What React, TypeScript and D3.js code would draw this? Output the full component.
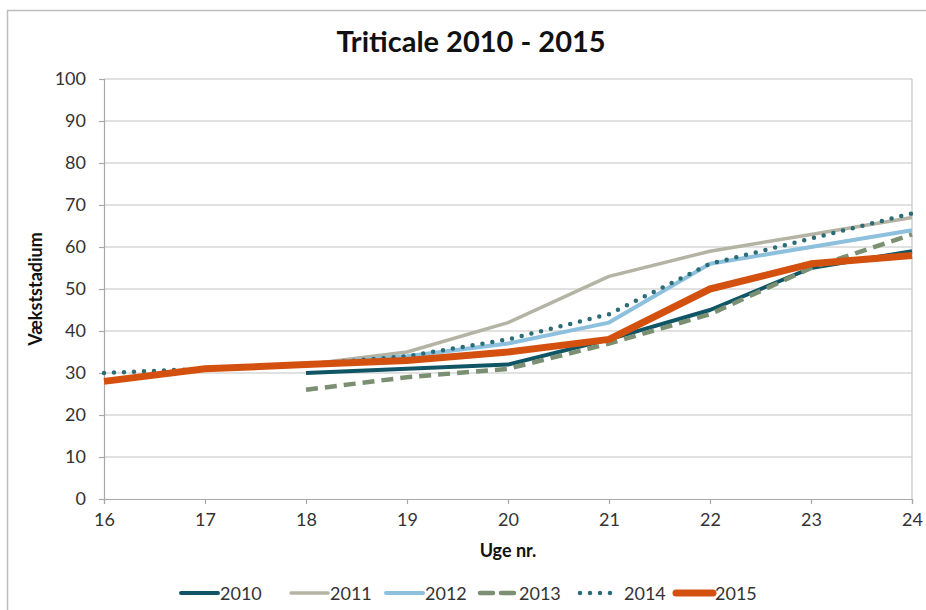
import React, { useEffect, useRef } from 'react';
import * as d3 from 'd3';

// Weeks on the x axis
const weeks = [16, 17, 18, 19, 20, 21, 22, 23, 24];
const yTicks = [0, 10, 20, 30, 40, 50, 60, 70, 80, 90, 100];

// Growth stage per week (null = no reading)
const years = ['2010', '2011', '2012', '2013', '2014', '2015'];
const v2010 = [null, null, 30, 31, 32, 38, 45, 55, 59];
const v2011 = [null, null, 32, 35, 42, 53, 59, 63, 67];
const v2012 = [null, null, 32, 34, 37, 42, 56, 60, 64];
const v2013 = [null, null, 26, 29, 31, 37, 44, 55, 63];
const v2014 = [30, 31, 32, 34, 38, 44, 56, 62, 68];
const v2015 = [28, 31, 32, 33, 35, 38, 50, 56, 58];

const seriesValues = [v2010, v2011, v2012, v2013, v2014, v2015];

const styles = [
  { color: '#0f5566', width: 4, dash: null, cap: 'butt' },
  { color: '#b5b3a3', width: 3.5, dash: null, cap: 'butt' },
  { color: '#8cc0dd', width: 4, dash: null, cap: 'butt' },
  { color: '#7b8f72', width: 4.5, dash: '12,7', cap: 'butt' },
  { color: '#2c6c76', width: 4.5, dash: '0,10', cap: 'round' },
  { color: '#d4500f', width: 7, dash: null, cap: 'butt' },
];

const W = 926;
const H = 610;
const margin = { top: 79, right: 14, bottom: 111, left: 104 };

function Chart() {
  const ref = useRef(null);

  useEffect(() => {
    const root = d3.select(ref.current);
    root.selectAll('*').remove();

    const svg = root
      .append('svg')
      .attr('width', W)
      .attr('height', H)
      .style('position', 'absolute')
      .style('left', 0)
      .style('top', 0)
      .style('font-family', 'Lato, "Open Sans", sans-serif');

    svg.append('rect').attr('width', W).attr('height', H).attr('fill', '#fff');

    // chart border
    svg
      .append('rect')
      .attr('x', 7.5)
      .attr('y', 10.5)
      .attr('width', W + 20)
      .attr('height', H + 20)
      .attr('fill', 'none')
      .attr('stroke', '#bdbdbd')
      .attr('stroke-width', 1.5);

    const width = W - margin.left - margin.right;
    const height = H - margin.top - margin.bottom;

    const x = d3.scaleLinear().domain([16, 24]).range([0, width]);
    const y = d3.scaleLinear().domain([0, 100]).range([height, 0]);

    const g = svg.append('g').attr('transform', `translate(${margin.left},${margin.top})`);

    // gridlines
    g.append('g')
      .selectAll('line')
      .data(yTicks.filter(t => t > 0))
      .enter()
      .append('line')
      .attr('x1', 0)
      .attr('x2', width)
      .attr('y1', d => y(d))
      .attr('y2', d => y(d))
      .attr('stroke', '#c4c4c4')
      .attr('stroke-width', 1.2);

    // right border of plot
    g.append('line')
      .attr('x1', width)
      .attr('x2', width)
      .attr('y1', 0)
      .attr('y2', height)
      .attr('stroke', '#c4c4c4')
      .attr('stroke-width', 1.2);

    // y axis
    const yAxis = g
      .append('g')
      .call(d3.axisLeft(y).tickValues(yTicks).tickSize(5).tickPadding(13));
    yAxis.select('.domain').attr('stroke', '#a8a8a8').attr('stroke-width', 1.2);
    yAxis.selectAll('.tick line').attr('stroke', '#a8a8a8').attr('stroke-width', 1.2);
    yAxis
      .selectAll('text')
      .attr('fill', '#333')
      .style('font-size', '18px')
      .style('font-family', 'Lato, sans-serif');

    // x axis
    const xAxis = g
      .append('g')
      .attr('transform', `translate(0,${height})`)
      .call(d3.axisBottom(x).tickValues(weeks).tickFormat(d3.format('d')).tickSize(5).tickPadding(9));
    xAxis.select('.domain').attr('stroke', '#a8a8a8').attr('stroke-width', 1.2);
    xAxis.selectAll('.tick line').attr('stroke', '#a8a8a8').attr('stroke-width', 1.2);
    xAxis
      .selectAll('text')
      .attr('fill', '#333')
      .style('font-size', '18px')
      .style('font-family', 'Lato, sans-serif');

    // lines
    const line = d3
      .line()
      .defined(d => d[1] != null)
      .x(d => x(d[0]))
      .y(d => y(d[1]));

    seriesValues.forEach((vals, i) => {
      const s = styles[i];
      const pts = weeks.map((w, j) => [w, vals[j]]);
      const path = g
        .append('path')
        .datum(pts)
        .attr('d', line)
        .attr('fill', 'none')
        .attr('stroke', s.color)
        .attr('stroke-width', s.width)
        .attr('stroke-linejoin', 'round')
        .attr('stroke-linecap', s.cap);
      if (s.dash) path.attr('stroke-dasharray', s.dash);
    });

    // title
    svg
      .append('text')
      .attr('x', 471)
      .attr('y', 52)
      .attr('text-anchor', 'middle')
      .style('font-size', '29px')
      .style('font-weight', 'bold')
      .attr('fill', '#111')
      .text('Triticale 2010 - 2015');

    // axis titles
    svg
      .append('text')
      .attr('transform', `translate(42,${margin.top + height / 2}) rotate(-90)`)
      .attr('text-anchor', 'middle')
      .style('font-size', '18px')
      .style('font-weight', 'bold')
      .attr('fill', '#111')
      .text('Vækststadium');

    svg
      .append('text')
      .attr('x', margin.left + width / 2)
      .attr('y', 557)
      .attr('text-anchor', 'middle')
      .style('font-size', '18px')
      .style('font-weight', 'bold')
      .attr('fill', '#111')
      .text('Uge nr.');

    // legend
    const legendX = [181, 291, 386, 480, 580, 676];
    const leg = svg.append('g').attr('transform', 'translate(0,593)');
    years.forEach((yr, i) => {
      const s = styles[i];
      const item = leg.append('g').attr('transform', `translate(${legendX[i]},0)`);
      const l = item
        .append('line')
        .attr('x1', 0)
        .attr('x2', 37)
        .attr('y1', 0)
        .attr('y2', 0)
        .attr('stroke', s.color)
        .attr('stroke-width', s.width)
        .attr('stroke-linecap', 'round');
      if (s.dash) l.attr('stroke-dasharray', i === 4 ? '0,10' : '13,8');
      item
        .append('text')
        .attr('x', i === 4 ? 44 : 39)
        .attr('y', 7)
        .style('font-size', '18px')
        .attr('fill', '#333')
        .text(yr);
    });
  }, []);

  return <div ref={ref} />;
}

export default function App() {
  return <Chart />;
}
